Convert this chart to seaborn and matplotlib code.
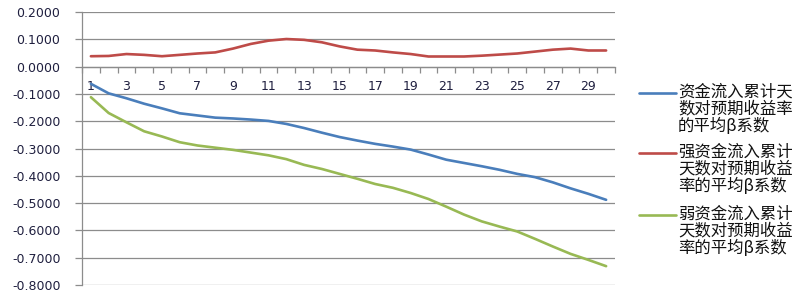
import numpy as np
import pandas as pd
import matplotlib
matplotlib.use("Agg")
import matplotlib.pyplot as plt
from matplotlib.ticker import FixedLocator, NullFormatter, FixedFormatter
from matplotlib.lines import Line2D
import seaborn as sns

days = list(range(1, 31))
all_flow = [-0.063, -0.098, -0.116, -0.136, -0.153, -0.171, -0.179, -0.187, -0.190, -0.194,
            -0.199, -0.210, -0.225, -0.242, -0.258, -0.271, -0.283, -0.293, -0.304, -0.322,
            -0.341, -0.353, -0.365, -0.378, -0.393, -0.405, -0.424, -0.446, -0.466, -0.488]
strong_flow = [0.038, 0.039, 0.046, 0.043, 0.038, 0.043, 0.048, 0.052, 0.066, 0.083,
               0.095, 0.101, 0.098, 0.089, 0.074, 0.062, 0.059, 0.052, 0.046, 0.037,
               0.037, 0.037, 0.040, 0.044, 0.048, 0.055, 0.062, 0.066, 0.059, 0.059]
weak_flow = [-0.112, -0.170, -0.204, -0.237, -0.256, -0.277, -0.289, -0.297, -0.305, -0.315,
             -0.325, -0.339, -0.360, -0.375, -0.393, -0.411, -0.430, -0.444, -0.463, -0.485,
             -0.513, -0.542, -0.567, -0.586, -0.604, -0.631, -0.659, -0.686, -0.708, -0.731]
series_names = ["资金流入累计天\n数对预期收益率\n的平均β系数",
                "强资金流入累计\n天数对预期收益\n率的平均β系数",
                "弱资金流入累计\n天数对预期收益\n率的平均β系数"]
colors = ["#4A7EBB", "#BE4B48", "#98B954"]
y_ticks = [-0.8, -0.7, -0.6, -0.5, -0.4, -0.3, -0.2, -0.1, 0.0, 0.1, 0.2]
x_labels = [str(d) for d in days if d % 2 == 1]

df = pd.DataFrame({
    "day": days * 3,
    "value": all_flow + strong_flow + weak_flow,
    "series": [series_names[0]] * 30 + [series_names[1]] * 30 + [series_names[2]] * 30,
})

sns.set_theme(style="white")
plt.rcParams["font.family"] = ["DejaVu Sans"]
plt.rcParams["axes.unicode_minus"] = False

fig = plt.figure(figsize=(8.07, 2.97), dpi=100)
ax = fig.add_axes([82 / 807, 12 / 297, 533 / 807, 273 / 297])

sns.lineplot(data=df, x="day", y="value", hue="series", palette=colors,
             hue_order=series_names, linewidth=1.9, legend=False, ax=ax, zorder=3)

ax.set_xlim(0.5, 30.5)
ax.set_ylim(-0.8, 0.2)
ax.set_xlabel("")
ax.set_ylabel("")

grid_c = "#8C8C8C"
for v in y_ticks:
    ax.axhline(v, color=grid_c, lw=0.9, zorder=1)

ax.set_yticks(y_ticks)
ax.set_yticklabels([f"{v:.4f}" for v in y_ticks])
ax.tick_params(axis="y", direction="out", length=5, width=0.9, color=grid_c,
               pad=10.5, labelsize=9, labelcolor="#1F1F3F", left=True)

ax.spines["top"].set_visible(False)
ax.spines["right"].set_visible(False)
ax.spines["left"].set_color(grid_c)
ax.spines["left"].set_linewidth(0.9)
ax.spines["bottom"].set_position(("data", 0))
ax.spines["bottom"].set_color(grid_c)
ax.spines["bottom"].set_linewidth(0.9)

ax.xaxis.set_major_locator(FixedLocator([k + 0.5 for k in range(0, 31)]))
ax.xaxis.set_major_formatter(NullFormatter())
ax.xaxis.set_minor_locator(FixedLocator([d for d in days if d % 2 == 1]))
ax.xaxis.set_minor_formatter(FixedFormatter(x_labels))
ax.tick_params(axis="x", which="major", direction="out", length=4, width=0.9,
               color=grid_c, bottom=True)
ax.tick_params(axis="x", which="minor", length=0, pad=10, labelsize=9,
               labelcolor="#1F1F3F", bottom=True)

# legend
W, H = 807, 297
line_y = [93, 153, 215]
for name, c, yy in zip(series_names, colors, line_y):
    fy = 1 - yy / H
    fig.add_artist(Line2D([639 / W, 676 / W], [fy, fy], color=c, lw=1.9,
                          transform=fig.transFigure))
    fig.text(678 / W, 1 - (yy - 9) / H, name, ha="left", va="top",
             fontsize=11.8, linespacing=0.98, color="#111111",
             family=["Noto Sans CJK SC", "DejaVu Sans"])

fig.savefig("out.png", dpi=100, facecolor="white")
